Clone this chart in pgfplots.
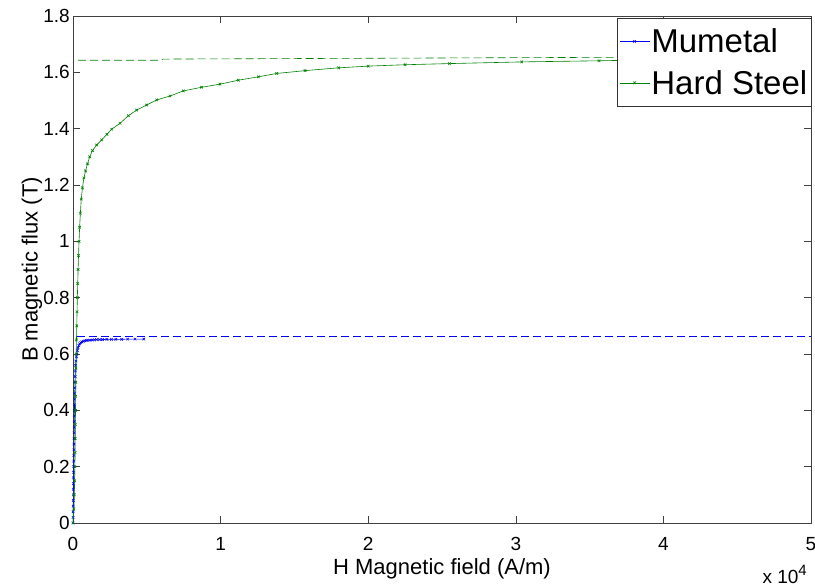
\documentclass[border=0pt]{standalone}
\usepackage{fontspec}
\setmainfont{Liberation Sans}
\usepackage{pgfplots}
\pgfplotsset{compat=1.18}
\definecolor{mgreen}{rgb}{0,0.5,0}
\definecolor{mblue}{rgb}{0,0,1}
\begin{document}
\begin{tikzpicture}
\useasboundingbox (-73pt,-65pt) rectangle (742pt,523pt);
\begin{axis}[
  scale only axis, width=738pt, height=507pt,
  at={(0,0)}, anchor=south west,
  clip mode=individual,
  xmin=0, xmax=50000, ymin=0, ymax=1.8,
  xtick={0,10000,20000,30000,40000,50000},
  xticklabels={0,1,2,3,4,5},
  scaled x ticks=false,
  ytick={0,0.2,0.4,0.6,0.8,1,1.2,1.4,1.6,1.8},
  yticklabels={0,0.2,0.4,0.6,0.8,1,1.2,1.4,1.6,1.8},
  tick align=inside, major tick length=7pt,
  axis line style={black!75}, tick style={black!75, line width=0.5pt},
  /pgf/number format/assume math mode=true,
  ticklabel style={font=\fontsize{19}{22}\selectfont},
  xticklabel style={anchor=base, yshift=-28pt},
  yticklabel style={inner sep=3pt},
  xlabel={H Magnetic field (A/m)},
  ylabel={B magnetic flux (T)},
  every axis x label/.style={at={(axis description cs:0.5,0)}, anchor=base, yshift=-52pt, font=\fontsize{22}{26}\selectfont},
  every axis y label/.style={at={(axis description cs:-0.0556,0.5)}, rotate=90, anchor=center, font=\fontsize{22}{26}\selectfont},
  legend style={at={(1,1)}, anchor=north east, yshift=-2pt, draw=black!80, font=\fontsize{33}{38}\selectfont,
    inner xsep=2pt, inner ysep=9pt, nodes={inner sep=1.5pt}, row sep=13pt},
  legend cell align=left,
  legend image code/.code={\draw[mark repeat=2,mark phase=2] plot coordinates {(0pt,0pt)(15pt,0pt)(30pt,0pt)};},
]
\addplot[mblue, line width=0.6pt, mark=x, mark size=1.8pt, mark options={solid}] coordinates {
(0,0)(5,0.02)(10,0.04)(15,0.06)(20,0.08)(25,0.10)(30,0.12)(35,0.14)(40,0.16)(45,0.18)
(50,0.20)(55,0.22)(60,0.24)(65,0.26)(70,0.28)(75,0.30)(80,0.32)(85,0.34)(90,0.36)(95,0.38)
(100,0.40)(105,0.42)(110,0.44)(118,0.46)(125,0.48)(135,0.50)(145,0.52)(160,0.54)(180,0.56)
(200,0.575)(230,0.59)(260,0.60)(300,0.612)(340,0.622)(390,0.63)(450,0.636)(520,0.640)
(600,0.643)(700,0.645)(800,0.647)(900,0.648)(1000,0.649)(1150,0.649)(1300,0.650)(1450,0.650)
(1600,0.651)(1800,0.651)(2000,0.651)(2300,0.652)(2600,0.652)(2900,0.652)(3300,0.652)
(3700,0.653)(4200,0.653)(4800,0.653)
};
\addlegendentry{Mumetal}
\addplot[mgreen, line width=0.6pt, mark=x, mark size=1.8pt, mark options={solid}] coordinates {
(0,0)(60,0.05)(90,0.1)(110,0.15)(125,0.2)(140,0.25)(150,0.3)(160,0.35)(170,0.4)(180,0.45)
(190,0.5)(200,0.55)(215,0.6)(235,0.65)(255,0.7)(275,0.75)(295,0.8)(320,0.85)(345,0.9)
(375,0.95)(410,1.0)(450,1.05)(500,1.1)(560,1.15)(640,1.19)(740,1.225)(850,1.25)(980,1.275)
(1130,1.3)(1320,1.322)(1600,1.342)(1940,1.36)(2300,1.38)(2620,1.398)(3184,1.419)(3750,1.446)
(4313,1.466)(4990,1.484)(5670,1.502)(6572,1.516)(7475,1.534)(8717,1.547)(9960,1.558)
(11200,1.572)(12555,1.584)(13800,1.596)(15720,1.606)(18000,1.616)(20000,1.622)(22500,1.627)
(25500,1.631)(30400,1.637)(35640,1.641)(40000,1.645)(45000,1.648)(49000,1.650)
};
\addlegendentry{Hard Steel}
\addplot[mblue, line width=0.6pt, dash pattern=on 8pt off 4pt, forget plot] coordinates {(290,0.664)(50000,0.664)};
\addplot[mgreen, line width=0.6pt, dash pattern=on 8pt off 4pt, forget plot] coordinates {(340,1.643)(6000,1.643)(6100,1.647)(30000,1.652)(50000,1.656)};
\node[anchor=base east, font=\fontsize{19}{22}\selectfont, inner sep=0pt] at (rel axis cs:1,0) [xshift=-4pt, yshift=-61pt] {x 10\raisebox{8pt}{\fontsize{15}{17}\selectfont 4}};
\end{axis}
\end{tikzpicture}
\end{document}
